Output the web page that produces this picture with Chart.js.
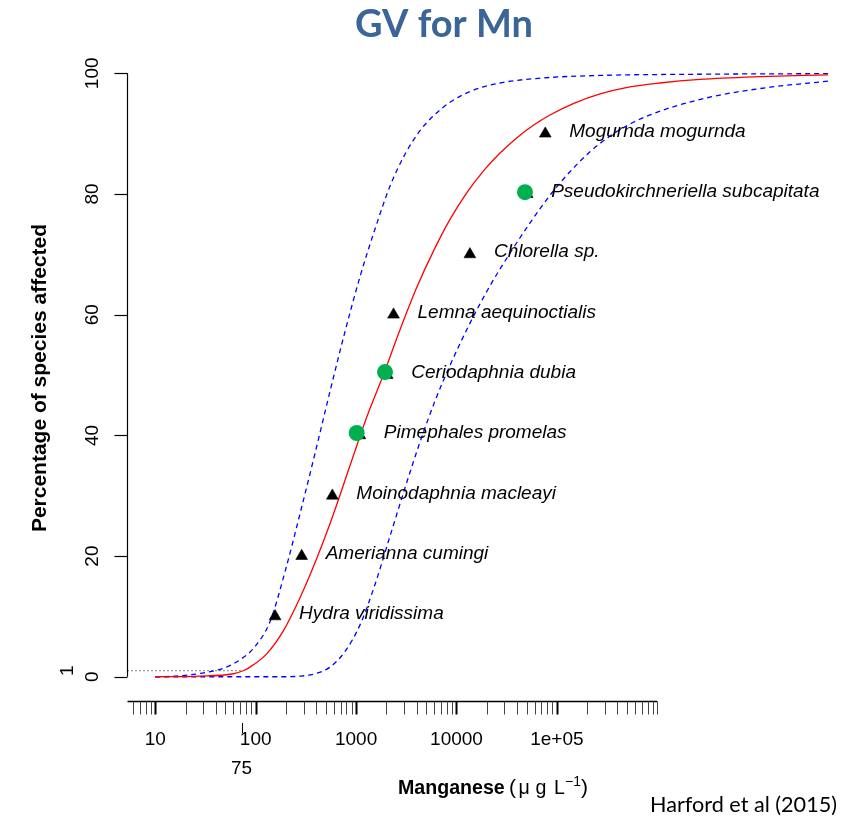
<!DOCTYPE html>
<html><head><meta charset="utf-8">
<script src="https://cdn.jsdelivr.net/npm/chart.js@4/dist/chart.umd.min.js"></script>
<style>html,body{margin:0;padding:0;background:#fff}#wrap{width:864px;height:817px;position:relative}</style>
</head><body><div id="wrap"><canvas id="c" width="864" height="817"></canvas></div>
<script>
// ---- data ----
const xTickValues = [10, 100, 1000, 10000, 100000];
const xTickLabels = ['10', '100', '1000', '10000', '1e+05'];
const yTickValues = [0, 20, 40, 60, 80, 100];
const guidelineValue = 75;      // concentration protecting 99% of species
const guidelinePct = 1;

const redX = [10, 28, 60, 75, 87.7, 128.7, 188.3, 276.2, 405.1, 592.9, 869.6, 1275, 1866, 2737, 4015, 5874, 8617, 12640, 18490, 27130, 39780, 58210, 85370, 151500, 268800, 476900, 1064000, 2663000, 10540000, 50150000];
const redY = [0, 0.1, 0.5, 1, 1.6, 3.8, 7.6, 13.1, 19.6, 26.9, 35, 43, 50, 57.5, 64.5, 70.5, 75.8, 80.2, 83.8, 86.8, 89.3, 91.4, 93.1, 95.1, 96.6, 97.6, 98.4, 99.0, 99.45, 99.75];

const upperX = [10, 17.6, 31.3, 49.3, 69.6, 98.4, 139.4, 196.6, 276.2, 389.6, 549.7, 775.5, 1094, 1543, 2176, 3070, 4331, 6109, 8617, 13630, 27130, 67880, 268800, 2663000, 50150000];
const upperY = [0, 0.15, 0.7, 1.5, 2.8, 5.0, 9.2, 17.5, 27, 37, 47.3, 57.2, 66.3, 74.2, 81.3, 86.6, 90.5, 93.2, 95.2, 97.0, 98.4, 99.2, 99.65, 99.85, 99.95];

const lowerX = [10, 187, 276.2, 389.6, 549.7, 775.5, 1094, 1543, 2176, 3070, 4331, 6109, 8617, 13630, 21570, 34120, 53970, 85370, 135100, 213600, 338000, 534700, 845800, 1683000, 4212000, 13260000, 50150000];
const lowerY = [0, 0, 0.1, 0.5, 1.6, 4.2, 8.6, 15.3, 23.3, 31.3, 38.9, 45.7, 51.6, 58.6, 64.8, 70.2, 75.2, 79.8, 83.7, 87.0, 89.6, 91.6, 93.1, 94.8, 96.4, 97.7, 98.7];

const speciesNames = ['Hydra viridissima', 'Amerianna cumingi', 'Moinodaphnia macleayi', 'Pimephales promelas', 'Ceriodaphnia dubia', 'Lemna aequinoctialis', 'Chlorella sp.', 'Pseudokirchneriella subcapitata', 'Mogurnda mogurnda'];
const speciesX = [156, 287, 580, 1090, 2040, 2360, 13600, 50600, 76600];
const speciesY = [10, 20, 30, 40, 50, 60, 70, 80, 90];

const greenX = [1014, 1940, 48100];
const greenY = [40.4, 50.5, 80.3];

const xAxisMin = 5.286, xAxisMax = 9.53e7, xAxisLineEnd = 1e6;
const yAxisMin = -4, yAxisMax = 104;

// ---- helpers ----
const pts = (xs, ys) => xs.map((x, i) => ({x, y: ys[i]}));
const minorTicks = [];
for (let e = 0; e <= 5; e++) for (let m = 1; m <= 9; m++) { const v = m * Math.pow(10, e); if (v > xAxisMin && v <= xAxisLineEnd) minorTicks.push(v); }
minorTicks.push(xAxisLineEnd);

const FONT = '"Liberation Sans", Arial, Helvetica, sans-serif';

const rAxes = {
  id: 'rAxes',
  afterDraw(chart) {
    const {ctx, chartArea, scales: {x, y}} = chart;
    ctx.save();
    ctx.strokeStyle = '#000';
    ctx.fillStyle = '#000';
    // Y axis
    const ax = chartArea.left;
    ctx.lineWidth = 1.2;
    ctx.beginPath(); ctx.moveTo(ax, y.getPixelForValue(0)); ctx.lineTo(ax, y.getPixelForValue(100)); ctx.stroke();
    yTickValues.forEach(v => { const py = Math.round(y.getPixelForValue(v)) + 0.5; ctx.beginPath(); ctx.moveTo(ax - 13, py); ctx.lineTo(ax, py); ctx.stroke(); });
    ctx.font = '19px ' + FONT; ctx.textAlign = 'center'; ctx.textBaseline = 'alphabetic';
    yTickValues.forEach(v => { ctx.save(); ctx.translate(98, y.getPixelForValue(v)); ctx.rotate(-Math.PI / 2); ctx.fillText(String(v), 0, 0); ctx.restore(); });
    ctx.save(); ctx.translate(73, y.getPixelForValue(guidelinePct)); ctx.rotate(-Math.PI / 2); ctx.fillText(String(guidelinePct), 0, 0); ctx.restore();
    // Y title
    ctx.save(); ctx.translate(45.5, (chartArea.top + chartArea.bottom) / 2 + 3); ctx.rotate(-Math.PI / 2);
    ctx.font = 'bold 21px ' + FONT; ctx.fillText('Percentage of species affected', 0, 0); ctx.restore();

    // X axis
    const ay = 701.5;
    ctx.lineWidth = 1.3;
    ctx.beginPath(); ctx.moveTo(chartArea.left, ay); ctx.lineTo(x.getPixelForValue(xAxisLineEnd), ay); ctx.stroke();
    minorTicks.forEach(v => {
      const major = xTickValues.includes(v);
      const px = Math.round(x.getPixelForValue(v)) + 0.5;
      ctx.lineWidth = major ? 2 : 1; ctx.strokeStyle = major ? '#000' : '#444';
      ctx.beginPath(); ctx.moveTo(px, ay); ctx.lineTo(px, ay + 13); ctx.stroke();
    });
    ctx.strokeStyle = '#000'; ctx.lineWidth = 1;
    ctx.font = '19px ' + FONT; ctx.textAlign = 'center';
    xTickValues.forEach((v, i) => ctx.fillText(xTickLabels[i], x.getPixelForValue(v), 744.5));
    const gx = Math.round(x.getPixelForValue(guidelineValue)) - 0.5;
    ctx.beginPath(); ctx.moveTo(gx, 723); ctx.lineTo(gx, 733); ctx.stroke();
    ctx.fillText(String(guidelineValue), gx - 1, 773.5);

    // X title
    ctx.textAlign = 'left';
    ctx.font = 'bold 19.6px ' + FONT;
    ctx.fillText('Manganese', 398, 794);
    ctx.font = '21px ' + FONT;
    ctx.fillText('(', 509, 794);
    ctx.fillText(')', 581, 794);
    ctx.font = '19.6px ' + FONT;
    ctx.fillText('\u03bc', 518.5, 794);
    ctx.fillText('g', 535.5, 794);
    ctx.fillText('L', 554, 794);
    ctx.font = '14px ' + FONT;
    ctx.fillText('\u22121', 565, 786);

    // species labels
    ctx.font = 'italic 19px ' + FONT;
    speciesNames.forEach((n, i) => ctx.fillText(n, x.getPixelForValue(speciesX[i]) + 24, y.getPixelForValue(speciesY[i]) + 3));

    // Title & source
    ctx.fillStyle = '#3b6497';
    let size = 36; ctx.font = 'bold ' + size + 'px Lato, "Open Sans", sans-serif';
    size = size * 178 / ctx.measureText('GV for Mn').width;
    ctx.font = 'bold ' + size.toFixed(2) + 'px Lato, "Open Sans", sans-serif';
    ctx.textAlign = 'center';
    ctx.fillText('GV for Mn', 444, 36.7);
    ctx.fillStyle = '#000';
    size = 22; ctx.font = size + 'px Lato, "Open Sans", sans-serif';
    size = size * 187 / ctx.measureText('Harford et al (2015)').width;
    ctx.font = size.toFixed(2) + 'px Lato, "Open Sans", sans-serif';
    ctx.textAlign = 'left';
    ctx.fillText('Harford et al (2015)', 650, 811.7);
    ctx.restore();
  }
};

new Chart(document.getElementById('c'), {
  type: 'scatter',
  data: {
    datasets: [
      { label: 'tested (green)', data: pts(greenX, greenY), pointStyle: 'circle', pointRadius: 8, backgroundColor: '#00b050', borderWidth: 0, order: 0 },
      { label: 'species', data: pts(speciesX, speciesY), pointStyle: 'triangle', pointRadius: 6.8, backgroundColor: '#000', borderColor: '#000', borderWidth: 0.6, order: 1 },
      { label: 'fit', data: pts(redX, redY), showLine: true, pointRadius: 0, borderColor: '#ff0000', borderWidth: 1.3, cubicInterpolationMode: 'monotone', order: 2 },
      { label: 'upper', data: pts(upperX, upperY), showLine: true, pointRadius: 0, borderColor: '#0000ff', borderWidth: 1.3, borderDash: [5, 4], cubicInterpolationMode: 'monotone', order: 3 },
      { label: 'lower', data: pts(lowerX, lowerY), showLine: true, pointRadius: 0, borderColor: '#0000ff', borderWidth: 1.3, borderDash: [5, 4], cubicInterpolationMode: 'monotone', order: 4 },
      { label: 'guide', data: [{x: xAxisMin, y: guidelinePct}, {x: guidelineValue, y: guidelinePct}], showLine: true, pointRadius: 0, borderColor: '#000', borderWidth: 1, borderDash: [1, 3], order: 5 }
    ]
  },
  options: {
    responsive: false,
    animation: false,
    layout: { padding: { left: 127.5, right: 3, top: 49.2, bottom: 116.1 } },
    plugins: { legend: { display: false }, title: { display: false }, tooltip: { enabled: false } },
    scales: {
      x: { type: 'logarithmic', min: xAxisMin, max: xAxisMax, display: false },
      y: { type: 'linear', min: yAxisMin, max: yAxisMax, display: false }
    }
  },
  plugins: [rAxes]
});
</script></body></html>
